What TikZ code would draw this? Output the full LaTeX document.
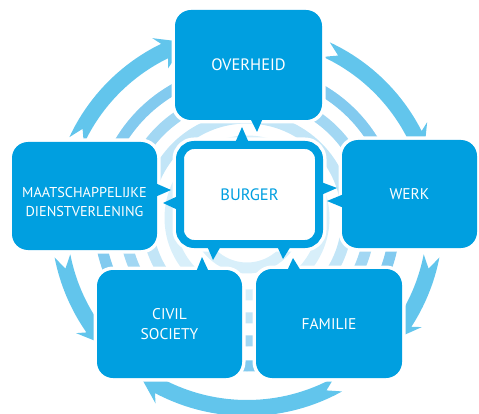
\documentclass[tikz,border=0pt]{standalone}
\usepackage{fontspec}
\setmainfont{PT Sans}
\usetikzlibrary{calc}
\definecolor{boxblue}{RGB}{0,159,224}
\definecolor{arrowblue}{RGB}{98,197,236}
\definecolor{ringA}{RGB}{216,239,250}
\definecolor{ringB}{RGB}{194,229,247}
\definecolor{ringC}{RGB}{162,215,243}
\definecolor{ringD}{RGB}{130,202,239}
% tail angle, head angle, direction (+1 ccw, -1 cw)
\newcommand{\ringarrow}[3]{%
  \fill[arrowblue] (#1:196) arc[start angle=#1, end angle=#2, radius=196]
    -- ({#2-1.5*#3}:205) -- ({#2+7*#3}:188) -- ({#2-1.5*#3}:171)
    -- (#2:180) arc[start angle=#2, end angle=#1, radius=180]
    -- ({#1+4*#3}:188) -- cycle;}
\begin{document}
\begin{tikzpicture}[x=1pt, y=-1pt, line join=round,
    tile/.style={rectangle, rounded corners=16pt, fill=boxblue, text=white,
      inner sep=0pt, align=center, font=\fontsize{15.5}{20}\selectfont,
      preaction={draw=white, line width=7pt}},
    spout/.style={fill=boxblue}]
  \useasboundingbox (0,0) rectangle (479,414);
  % rings
  \begin{scope}[shift={(247,218)}, yscale=-1]
    \foreach \r/\c in {50/ringA, 77/ringA, 100/ringB, 123/ringC, 148/ringD}
      \draw[\c, line width=11pt] (0,0) circle (\r);
  \end{scope}
  % outer arrows
  \begin{scope}[shift={(247,220)}, yscale=-1]
    \ringarrow{155}{116}{-1}
    \ringarrow{65}{27}{-1}
    \ringarrow{-11}{-33}{-1}
    \ringarrow{-61}{-118}{-1}
    \ringarrow{191}{215}{1}
  \end{scope}
  % boxes
  \node[tile, minimum width=147pt, minimum height=110pt,
    font=\fontsize{16.5}{20}\selectfont] (overheid) at (248.5,65) {OVERHEID};
  \node[tile, minimum width=145pt, minimum height=108pt] (dienst) at (84.5,196) {};
  \node[text=white, align=center, font=\fontsize{14.3}{19}\selectfont]
    at (84.5,202) {MAATSCHAPPELIJKE\\DIENSTVERLENING};
  \node[tile, minimum width=135pt, minimum height=108pt] (werk) at (409.5,194) {WERK};
  \node[tile, minimum width=145pt, minimum height=108pt] (civil) at (169.5,324) {CIVIL\\SOCIETY};
  \node[tile, minimum width=146pt, minimum height=109pt] (familie) at (329,323.5) {FAMILIE};
  \node[rectangle, rounded corners=14pt, fill=white, draw=boxblue, line width=8pt,
    minimum width=139pt, minimum height=99pt, text=boxblue,
    font=\fontsize{16.5}{20}\selectfont, preaction={draw=white, line width=15pt}]
    (burger) at (249.5,194.5) {BURGER};
  % pointers
  \fill[spout] (250,118) -- (263,118) -- (257,132) -- cycle;
  \fill[spout] (235,143) -- (249,143) -- (242,127) -- cycle;
  \fill[spout] (321,182) -- (321,195) -- (337,188) -- cycle;
  \fill[spout] (344,194) -- (344,208) -- (327,201) -- cycle;
  \fill[spout] (155,183) -- (155,197) -- (171,190) -- cycle;
  \fill[spout] (178,196) -- (178,210) -- (163,203) -- cycle;
  \fill[spout] (207,246) -- (221,246) -- (213,260) -- cycle;
  \fill[spout] (196,272) -- (209,272) -- (202,257) -- cycle;
  \fill[spout] (277,246) -- (291,246) -- (283,259) -- cycle;
  \fill[spout] (287,271) -- (301,271) -- (293,258) -- cycle;
\end{tikzpicture}
\end{document}
